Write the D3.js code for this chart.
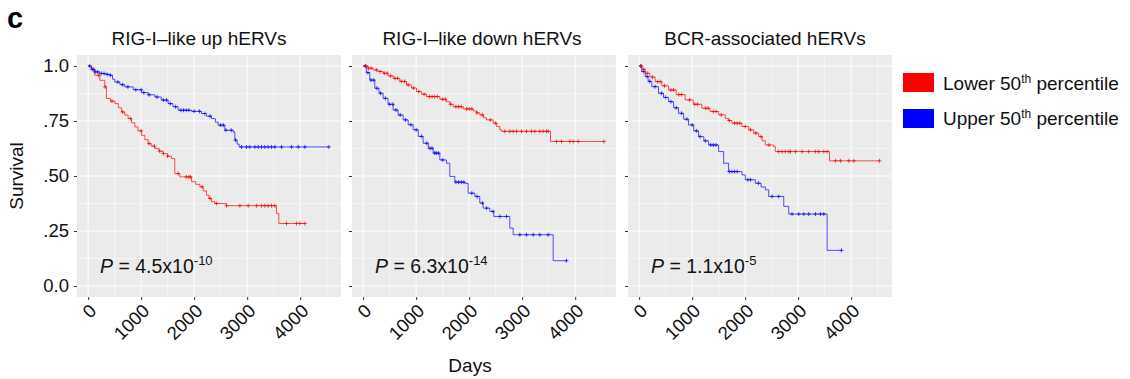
<!DOCTYPE html>
<html>
<head>
<meta charset="utf-8">
<script src="https://cdn.jsdelivr.net/npm/d3@7"></script>
<style>
  body { margin: 0; background: #fff; }
  text { font-family: "Liberation Sans", Arial, sans-serif; }
</style>
</head>
<body>
<div id="chart"></div>
<script>

// panel titles and p values
const panelTitles = ["RIG-I\u2013like up hERVs", "RIG-I\u2013like down hERVs", "BCR-associated hERVs"];
const pMantissa = ["4.5", "6.3", "1.1"];
const pExponent = ["-10", "-14", "-5"];
const groupNames = ["Lower 50", "Upper 50"];
const groupColors = ["#ff0000", "#0000ff"];

// tick values
const xTicks = [0, 1000, 2000, 3000, 4000];
const xMinor = [500, 1500, 2500, 3500, 4500];
const yTicks = [0, 0.25, 0.5, 0.75, 1];
const yTickLabels = ["0.0", ".25", ".50", ".75", "1.0"];
const yMinor = [0.125, 0.375, 0.625, 0.875];

// Kaplan-Meier steps [days, survival]
const rigUpLower = [[0,1],[60,0.985],[126,0.958],[220,0.935],[314,0.905],[346,0.852],[420,0.84],[503,0.829],[570,0.81],[629,0.791],[690,0.777],[755,0.761],[820,0.742],[881,0.723],[940,0.705],[1006,0.685],[1070,0.665],[1132,0.647],[1190,0.636],[1258,0.625],[1340,0.613],[1415,0.602],[1500,0.59],[1572,0.579],[1635,0.511],[1730,0.496],[1950,0.474],[2030,0.462],[2107,0.451],[2170,0.432],[2233,0.413],[2280,0.398],[2327,0.383],[2390,0.375],[2610,0.365],[3553,0.33],[3597,0.284],[4088,0.284]];
const rigUpUpper = [[0,1],[60,0.985],[126,0.973],[220,0.966],[314,0.962],[409,0.958],[460,0.94],[503,0.927],[600,0.915],[692,0.905],[850,0.892],[1006,0.879],[1130,0.869],[1258,0.859],[1380,0.845],[1509,0.829],[1600,0.815],[1698,0.799],[1950,0.794],[2138,0.784],[2230,0.772],[2327,0.761],[2400,0.745],[2453,0.731],[2579,0.708],[2736,0.7],[2767,0.663],[2810,0.645],[2849,0.632],[4541,0.632]];
const rigDownLower = [[0,1],[90,0.99],[189,0.982],[280,0.975],[377,0.967],[470,0.955],[566,0.944],[690,0.93],[818,0.914],[910,0.9],[1006,0.884],[1100,0.872],[1195,0.861],[1447,0.849],[1572,0.838],[1640,0.826],[1698,0.815],[1887,0.805],[2075,0.796],[2140,0.787],[2201,0.778],[2270,0.765],[2327,0.755],[2453,0.74],[2520,0.725],[2579,0.71],[2610,0.703],[3535,0.657],[4541,0.657]];
const rigDownUpper = [[0,1],[60,0.97],[126,0.936],[220,0.899],[300,0.876],[377,0.853],[470,0.826],[566,0.8],[660,0.777],[755,0.755],[850,0.733],[943,0.71],[1040,0.68],[1132,0.649],[1230,0.626],[1321,0.604],[1447,0.573],[1572,0.558],[1635,0.498],[1730,0.472],[1918,0.467],[1981,0.422],[2107,0.407],[2201,0.377],[2264,0.354],[2390,0.339],[2465,0.316],[2767,0.263],[2830,0.233],[3585,0.115],[3836,0.115]];
const bcrLower = [[0,1],[50,0.985],[113,0.967],[200,0.95],[302,0.929],[430,0.91],[554,0.891],[700,0.87],[869,0.846],[1020,0.826],[1184,0.808],[1340,0.793],[1499,0.778],[1625,0.762],[1690,0.752],[1751,0.74],[1940,0.725],[2066,0.71],[2160,0.695],[2255,0.679],[2320,0.66],[2381,0.641],[2539,0.634],[2570,0.611],[3591,0.569],[4535,0.569]];
const bcrUpper = [[0,1],[50,0.975],[113,0.952],[170,0.93],[239,0.906],[365,0.876],[460,0.857],[554,0.838],[650,0.81],[743,0.785],[840,0.758],[932,0.732],[1030,0.705],[1121,0.679],[1220,0.66],[1310,0.641],[1499,0.611],[1594,0.558],[1688,0.52],[1940,0.505],[2003,0.483],[2192,0.467],[2300,0.45],[2381,0.437],[2444,0.407],[2728,0.362],[2822,0.327],[3546,0.162],[3817,0.162]];

// censored times (days)
const rigUpLowerCens = [100,200,320,450,650,800,1000,1150,1250,1350,1420,1500,1700,1850,1900,1930,2150,2300,2420,2610,2862,3019,3176,3270,3333,3396,3459,3522,3742,3931,3994,4088];
const rigUpUpperCens = [30,80,130,180,250,300,360,420,560,650,750,900,1000,1050,1150,1300,1420,1480,1550,1650,1750,1800,1850,1900,2000,2100,2200,2300,2500,2550,2600,2700,2780,2893,2987,3050,3145,3208,3270,3333,3396,3459,3522,3648,3836,3962,4088,4541];
const rigDownLowerCens = [50,100,150,250,320,400,450,520,600,650,720,780,850,950,1050,1150,1250,1300,1350,1400,1500,1550,1650,1750,1800,1850,1950,2000,2050,2150,2250,2400,2500,2673,2767,2830,2893,2987,3082,3176,3239,3333,3396,3459,3491,3648,3742,3899,3962,4057,4541];
const rigDownUpperCens = [40,90,150,200,260,330,420,500,560,620,700,800,900,1000,1100,1200,1260,1300,1350,1380,1420,1500,1750,1800,1850,1900,2050,2150,2250,2330,2450,2579,2704,2956,3082,3208,3333,3491,3836];
const bcrLowerCens = [40,90,150,250,350,400,480,600,650,750,800,950,1050,1100,1250,1300,1400,1450,1550,1700,1800,1850,1900,2000,2100,2200,2300,2450,2633,2696,2759,2822,2854,2948,3074,3200,3326,3389,3484,3547,3704,3798,3956,4050,4535];
const bcrUpperCens = [30,80,150,200,300,420,500,600,700,800,900,1000,1080,1150,1250,1350,1400,1450,1700,1750,1800,1850,2050,2100,2250,2507,2633,2885,3011,3106,3200,3326,3420,3484,3817];

const panelSeries = [
    [[rigUpLower, rigUpLowerCens], [rigUpUpper, rigUpUpperCens]],
    [[rigDownUpper, rigDownUpperCens], [rigDownLower, rigDownLowerCens]],
    [[bcrUpper, bcrUpperCens], [bcrLower, bcrLowerCens]]
];
// color index for each series above
const panelColorIdx = [[0, 1], [1, 0], [1, 0]];

// layout
const panelLeft = [77, 352, 628],
    panelTop = 55,
    panelW = 264,
    panelH = 242,
    titleX = [199, 482, 765];

const svg = d3.select("#chart")
    .append("svg")
    .attr("width", 1130)
    .attr("height", 379);

// panel letter
svg.append("text")
    .attr("x", 7).attr("y", 28)
    .style("font-size", "29px").style("font-weight", "bold")
    .text("c");

const x = d3.scaleLinear().domain([-210, 4770]).range([0, panelW]);
const y = d3.scaleLinear().domain([-0.05, 1.05]).range([panelH, 0]);

const line = d3.line()
    .x(d => x(d[0]))
    .y(d => y(d[1]))
    .curve(d3.curveStepAfter);

// survival value at time t
const bis = d3.bisector(d => d[0]).right;
function survAt(steps, t) {
    return steps[Math.max(0, bis(steps, t) - 1)][1];
}

panelTitles.forEach(function (title, i) {

    const g = svg.append("g")
        .attr("transform", `translate(${panelLeft[i]},${panelTop})`);

    g.append("rect")
        .attr("width", panelW).attr("height", panelH)
        .attr("fill", "#ebebeb");

    // minor grid
    g.selectAll(".vminor").data(xMinor).join("line")
        .attr("x1", d => x(d)).attr("x2", d => x(d))
        .attr("y1", 0).attr("y2", panelH)
        .attr("stroke", "#fff").attr("stroke-width", 0.5);
    g.selectAll(".hminor").data(yMinor).join("line")
        .attr("y1", d => y(d)).attr("y2", d => y(d))
        .attr("x1", 0).attr("x2", panelW)
        .attr("stroke", "#fff").attr("stroke-width", 0.5);

    // major grid
    g.selectAll(".vmajor").data(xTicks).join("line")
        .attr("x1", d => x(d)).attr("x2", d => x(d))
        .attr("y1", 0).attr("y2", panelH)
        .attr("stroke", "#fff").attr("stroke-width", 1);
    g.selectAll(".hmajor").data(yTicks).join("line")
        .attr("y1", d => y(d)).attr("y2", d => y(d))
        .attr("x1", 0).attr("x2", panelW)
        .attr("stroke", "#fff").attr("stroke-width", 1);

    // Y axis
    const yAxis = g.append("g")
        .call(d3.axisLeft(y).tickValues(yTicks).tickSize(3)
            .tickPadding(5)
            .tickFormat((d, k) => i == 0 ? yTickLabels[k] : ""));
    yAxis.select(".domain").remove();
    yAxis.selectAll("line").attr("stroke", "#333");
    yAxis.selectAll("text")
        .style("font-size", "18.5px").attr("fill", "#111")
        .attr("font-family", null);

    // X axis
    const xAxis = g.append("g")
        .attr("transform", `translate(0,${panelH})`)
        .call(d3.axisBottom(x).tickValues(xTicks).tickSize(3).tickFormat(d3.format("d")));
    xAxis.select(".domain").remove();
    xAxis.selectAll("line").attr("stroke", "#333");
    xAxis.selectAll("text")
        .attr("y", 0).attr("dy", 0)
        .attr("transform", "translate(9,15) rotate(-45)")
        .style("text-anchor", "end")
        .style("font-size", "18.5px").attr("fill", "#111")
        .attr("font-family", null);

    // curves
    panelSeries[i].forEach(function (s, k) {
        const col = groupColors[panelColorIdx[i][k]];
        g.append("path")
            .datum(s[0])
            .attr("d", line)
            .attr("fill", "none")
            .attr("stroke", col)
            .attr("stroke-opacity", 0.75)
            .attr("stroke-width", 0.9);
        g.selectAll(".cens" + k).data(s[1]).join("path")
            .attr("transform", d => `translate(${x(d)},${y(survAt(s[0], d))})`)
            .attr("d", "M-2,0H2M0,-2V2")
            .attr("stroke", col)
            .attr("stroke-opacity", 0.8)
            .attr("stroke-width", 0.9);
    });

    // P value
    const pt = g.append("text")
        .attr("x", 23).attr("y", 218)
        .style("font-size", "19.5px").attr("fill", "#111");
    pt.append("tspan").style("font-style", "italic").text("P");
    pt.append("tspan").text(" = " + pMantissa[i] + "x10");
    pt.append("tspan").attr("dy", -8).style("font-size", "13px").text(pExponent[i]);

    // title
    svg.append("text")
        .attr("x", titleX[i]).attr("y", 45)
        .attr("text-anchor", "middle")
        .style("font-size", "19px").attr("fill", "#111")
        .text(title);
});

// axis titles
svg.append("text")
    .attr("transform", "translate(23,176) rotate(-90)")
    .attr("text-anchor", "middle")
    .style("font-size", "19px").attr("fill", "#111")
    .text("Survival");

svg.append("text")
    .attr("x", 470).attr("y", 372)
    .attr("text-anchor", "middle")
    .style("font-size", "19px").attr("fill", "#111")
    .text("Days");

// legend
groupNames.forEach(function (name, k) {
    svg.append("rect")
        .attr("x", 903).attr("y", 73 + k * 36)
        .attr("width", 31).attr("height", 19)
        .attr("fill", groupColors[k]);
    const t = svg.append("text")
        .attr("x", 943).attr("y", 90 + k * 35)
        .style("font-size", "19px").attr("fill", "#111");
    t.append("tspan").text(name);
    t.append("tspan").attr("dy", -7).style("font-size", "12px").text("th");
    t.append("tspan").attr("dy", 7).text(" percentile");
});

</script>
</body>
</html>
